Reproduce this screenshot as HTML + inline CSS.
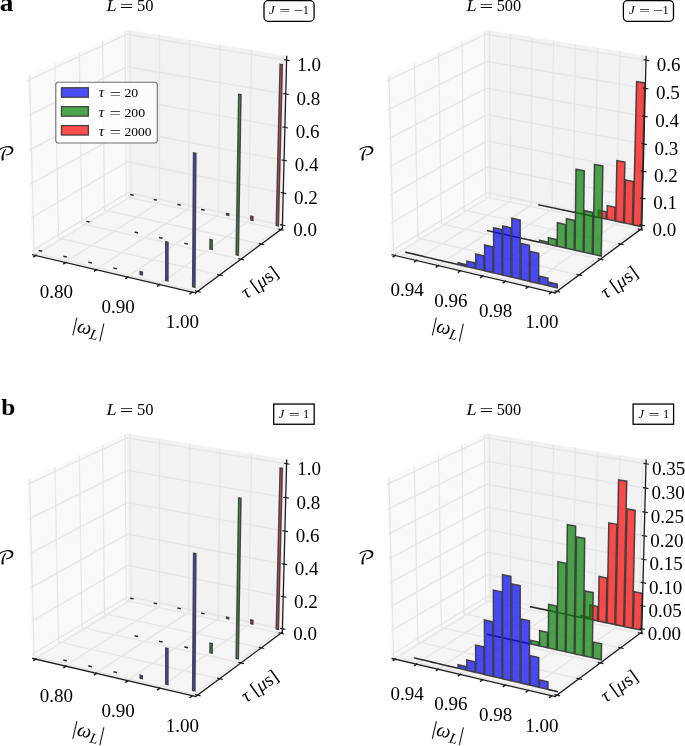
<!DOCTYPE html>
<html lang="en"><head><meta charset="utf-8"><title>Figure</title>
<style>html,body{margin:0;padding:0;background:#fff;overflow:hidden}svg{display:block}</style>
</head><body>
<svg width="685" height="746" viewBox="0 0 685 746" font-family="'Liberation Serif', 'DejaVu Serif', serif" fill="#000">
<g>
<polygon points="32.1,254.28 127.97,195.83 126.9,29.85 27.37,75.88" fill="#f9f9f9"/>
<polygon points="127.97,195.83 282.33,228.41 286.73,55.47 126.9,29.85" fill="#f2f2f2"/>
<polygon points="32.1,254.28 195.29,292.77 282.33,228.41 127.97,195.83" fill="#f5f5f5"/>
<polyline points="35.21,255.01 130.92,196.45 129.95,30.34" fill="none" stroke="#e6e6e6" stroke-width="1.3"/>
<polyline points="65.35,262.12 159.52,202.49 159.52,35.08" fill="none" stroke="#e6e6e6" stroke-width="1.3"/>
<polyline points="96.07,269.37 188.62,208.63 189.64,39.91" fill="none" stroke="#e6e6e6" stroke-width="1.3"/>
<polyline points="127.38,276.75 218.25,214.88 220.31,44.83" fill="none" stroke="#e6e6e6" stroke-width="1.3"/>
<polyline points="159.3,284.28 248.4,221.25 251.56,49.84" fill="none" stroke="#e6e6e6" stroke-width="1.3"/>
<polyline points="191.86,291.96 279.1,227.73 283.38,54.94" fill="none" stroke="#e6e6e6" stroke-width="1.3"/>
<polyline points="197.18,291.37 34.18,253.01 29.53,74.88" fill="none" stroke="#e6e6e6" stroke-width="1.3"/>
<polyline points="219.38,274.96 58.56,238.15 54.89,63.15" fill="none" stroke="#e6e6e6" stroke-width="1.3"/>
<polyline points="240.67,259.22 81.99,223.87 79.23,51.9" fill="none" stroke="#e6e6e6" stroke-width="1.3"/>
<polyline points="261.1,244.11 104.52,210.13 102.6,41.09" fill="none" stroke="#e6e6e6" stroke-width="1.3"/>
<polyline points="280.73,229.59 126.2,196.91 125.06,30.7" fill="none" stroke="#e6e6e6" stroke-width="1.3"/>
<polyline points="32.01,250.86 127.95,192.64 282.41,225.09" fill="none" stroke="#e6e6e6" stroke-width="1.3"/>
<polyline points="31.13,217.75 127.75,161.76 283.23,192.96" fill="none" stroke="#e6e6e6" stroke-width="1.3"/>
<polyline points="30.24,184.18 127.55,130.5 284.06,160.4" fill="none" stroke="#e6e6e6" stroke-width="1.3"/>
<polyline points="29.34,150.14 127.34,98.83 284.9,127.41" fill="none" stroke="#e6e6e6" stroke-width="1.3"/>
<polyline points="28.42,115.62 127.13,66.75 285.75,93.96" fill="none" stroke="#e6e6e6" stroke-width="1.3"/>
<polyline points="27.5,80.61 126.92,34.25 286.61,60.06" fill="none" stroke="#e6e6e6" stroke-width="1.3"/>
<line x1="130.98" y1="194.61" x2="132.91" y2="195.02" stroke="#2a2a2a" stroke-width="1.5" stroke-linecap="square"/>
<line x1="154.37" y1="199.55" x2="156.33" y2="199.97" stroke="#2a2a2a" stroke-width="1.5" stroke-linecap="square"/>
<line x1="178.1" y1="204.56" x2="180.09" y2="204.98" stroke="#2a2a2a" stroke-width="1.5" stroke-linecap="square"/>
<line x1="201.88" y1="209.59" x2="203.89" y2="210.01" stroke="#2a2a2a" stroke-width="1.5" stroke-linecap="square"/>
<polygon points="226.6,214.81 226.62,213.55 228.66,213.98 228.65,215.24" fill="#ff0000" fill-opacity="0.7"/>
<polygon points="226.6,214.81 226.62,213.55 228.66,213.98 228.65,215.24" fill="none" stroke="#3c3c3c" stroke-opacity="0.95" stroke-width="1.5" stroke-linejoin="miter"/>
<polygon points="250.78,219.92 250.85,216.27 252.93,216.7 252.86,220.36" fill="#ff0000" fill-opacity="0.7"/>
<polygon points="250.78,219.92 250.85,216.27 252.93,216.7 252.86,220.36" fill="none" stroke="#3c3c3c" stroke-opacity="0.95" stroke-width="1.5" stroke-linejoin="miter"/>
<polygon points="276.24,225.3 280.12,64.32 282.3,64.68 278.35,225.74" fill="#ff0000" fill-opacity="0.7"/>
<polygon points="276.24,225.3 280.12,64.32 282.3,64.68 278.35,225.74" fill="none" stroke="#3c3c3c" stroke-opacity="0.95" stroke-width="1.5" stroke-linejoin="miter"/>
<line x1="87" y1="221.53" x2="88.98" y2="221.97" stroke="#2a2a2a" stroke-width="1.5" stroke-linecap="square"/>
<line x1="135.33" y1="232.29" x2="137.36" y2="232.74" stroke="#2a2a2a" stroke-width="1.5" stroke-linecap="square"/>
<line x1="159.74" y1="237.72" x2="161.8" y2="238.18" stroke="#2a2a2a" stroke-width="1.5" stroke-linecap="square"/>
<line x1="185.13" y1="243.37" x2="187.23" y2="243.84" stroke="#2a2a2a" stroke-width="1.5" stroke-linecap="square"/>
<polygon points="209.98,248.9 210.08,239.53 212.22,240 212.11,249.37" fill="#008000" fill-opacity="0.7"/>
<polygon points="209.98,248.9 210.08,239.53 212.22,240 212.11,249.37" fill="none" stroke="#3c3c3c" stroke-opacity="0.95" stroke-width="1.5" stroke-linejoin="miter"/>
<polygon points="236.16,254.72 238.71,94.31 240.95,94.7 238.33,255.21" fill="#008000" fill-opacity="0.7"/>
<polygon points="236.16,254.72 238.71,94.31 240.95,94.7 238.33,255.21" fill="none" stroke="#3c3c3c" stroke-opacity="0.95" stroke-width="1.5" stroke-linejoin="miter"/>
<line x1="39.44" y1="250.65" x2="41.46" y2="251.12" stroke="#2a2a2a" stroke-width="1.5" stroke-linecap="square"/>
<line x1="64.03" y1="256.43" x2="66.09" y2="256.91" stroke="#2a2a2a" stroke-width="1.5" stroke-linecap="square"/>
<line x1="89.02" y1="262.3" x2="91.11" y2="262.79" stroke="#2a2a2a" stroke-width="1.5" stroke-linecap="square"/>
<line x1="114.08" y1="268.19" x2="116.21" y2="268.69" stroke="#2a2a2a" stroke-width="1.5" stroke-linecap="square"/>
<polygon points="140.18,274.33 140.17,271.62 142.32,272.13 142.33,274.83" fill="#0000ff" fill-opacity="0.7"/>
<polygon points="140.18,274.33 140.17,271.62 142.32,272.13 142.33,274.83" fill="none" stroke="#3c3c3c" stroke-opacity="0.95" stroke-width="1.5" stroke-linejoin="miter"/>
<polygon points="165.73,280.33 165.78,241.8 167.98,242.29 167.92,280.85" fill="#0000ff" fill-opacity="0.7"/>
<polygon points="165.73,280.33 165.78,241.8 167.98,242.29 167.92,280.85" fill="none" stroke="#3c3c3c" stroke-opacity="0.95" stroke-width="1.5" stroke-linejoin="miter"/>
<polygon points="192.66,286.66 193.58,153.03 195.87,153.48 194.89,287.19" fill="#0000ff" fill-opacity="0.7"/>
<polygon points="192.66,286.66 193.58,153.03 195.87,153.48 194.89,287.19" fill="none" stroke="#3c3c3c" stroke-opacity="0.95" stroke-width="1.5" stroke-linejoin="miter"/>
<polyline points="32.69,254.78 195.6,292.87" stroke="#1c1c1c" stroke-width="1.3" stroke-linecap="square" fill="none"/>
<polyline points="195.6,292.87 282.34,228.51" stroke="#1c1c1c" stroke-width="1.3" stroke-linecap="square" fill="none"/>
<polyline points="282.34,228.51 286.7,56.5" stroke="#1c1c1c" stroke-width="1.3" stroke-linecap="square" fill="none"/>
<polyline points="35.99,255.31 33.83,256.64" fill="none" stroke="#1c1c1c" stroke-width="1.5" stroke-linecap="square"/>
<polyline points="66.02,262.42 63.9,263.77" fill="none" stroke="#1c1c1c" stroke-width="1.5" stroke-linecap="square"/>
<polyline points="96.63,269.67 94.54,271.04" fill="none" stroke="#1c1c1c" stroke-width="1.5" stroke-linecap="square"/>
<polyline points="127.83,277.05 125.78,278.45" fill="none" stroke="#1c1c1c" stroke-width="1.5" stroke-linecap="square"/>
<polyline points="159.65,284.58 157.63,286.01" fill="none" stroke="#1c1c1c" stroke-width="1.5" stroke-linecap="square"/>
<polyline points="192.09,292.26 190.11,293.72" fill="none" stroke="#1c1c1c" stroke-width="1.5" stroke-linecap="square"/>
<polyline points="195.58,290.92 200.09,291.98" fill="none" stroke="#1c1c1c" stroke-width="1.2" stroke-linecap="square"/>
<polyline points="217.72,274.52 222.17,275.54" fill="none" stroke="#1c1c1c" stroke-width="1.2" stroke-linecap="square"/>
<polyline points="238.96,258.8 243.35,259.78" fill="none" stroke="#1c1c1c" stroke-width="1.2" stroke-linecap="square"/>
<polyline points="259.35,243.71 263.67,244.65" fill="none" stroke="#1c1c1c" stroke-width="1.2" stroke-linecap="square"/>
<polyline points="278.94,229.21 283.2,230.11" fill="none" stroke="#1c1c1c" stroke-width="1.2" stroke-linecap="square"/>
<polyline points="280.62,224.71 284.88,225.6" fill="none" stroke="#1c1c1c" stroke-width="1.2" stroke-linecap="square"/>
<polyline points="281.42,192.59 285.71,193.46" fill="none" stroke="#1c1c1c" stroke-width="1.2" stroke-linecap="square"/>
<polyline points="282.24,160.05 286.55,160.88" fill="none" stroke="#1c1c1c" stroke-width="1.2" stroke-linecap="square"/>
<polyline points="283.06,127.07 287.41,127.86" fill="none" stroke="#1c1c1c" stroke-width="1.2" stroke-linecap="square"/>
<polyline points="283.9,93.64 288.27,94.39" fill="none" stroke="#1c1c1c" stroke-width="1.2" stroke-linecap="square"/>
<polyline points="284.74,59.76 289.15,60.47" fill="none" stroke="#1c1c1c" stroke-width="1.2" stroke-linecap="square"/>
<text x="305.02" y="236.13" font-size="19" text-anchor="middle">0.0</text>
<text x="305.84" y="204" font-size="19" text-anchor="middle">0.2</text>
<text x="306.67" y="171.45" font-size="19" text-anchor="middle">0.4</text>
<text x="307.5" y="138.45" font-size="19" text-anchor="middle">0.6</text>
<text x="308.35" y="105.01" font-size="19" text-anchor="middle">0.8</text>
<text x="309.21" y="71.1" font-size="19" text-anchor="middle">1.0</text>
<text x="56.32" y="298.37" font-size="19" text-anchor="middle">0.80</text>
<text x="118.13" y="313" font-size="19" text-anchor="middle">0.90</text>
<text x="182.39" y="328.21" font-size="19" text-anchor="middle">1.00</text>
<text x="87" y="334.1" font-size="20" text-anchor="middle" transform="rotate(12.8 87 334.1)"><tspan font-style="italic">|ω</tspan><tspan font-style="italic" font-size="14.5" dy="3.8">L</tspan><tspan dy="-3.8" font-style="italic">|</tspan></text>
<text x="263.3" y="287.3" font-size="19" text-anchor="middle" transform="rotate(-35.8 263.3 287.3)"><tspan font-style="italic">τ</tspan> [<tspan font-style="italic">μ</tspan>s]</text>
<text transform="translate(-2.47 160.1) scale(1.1705 1)" font-size="17.86" font-family="'DejaVu Math TeX Gyre', 'DejaVu Serif', serif">𝒫</text>
<text transform="translate(106.51 11) scale(1.0302 1)" font-size="17.72" font-style="italic">L</text>
<text transform="translate(119.7 12.3) scale(1.4499 1)" font-size="16.6">=</text>
<text transform="translate(137.04 11) scale(0.9855 1)" font-size="16.84">50</text>
<rect x="264" y="0.7" width="50.1" height="20.6" rx="4" ry="4" fill="#fff" stroke="#000" stroke-width="1.3"/>
<text transform="translate(269.1 14.1) scale(0.9815 1)" font-size="13.29" font-style="italic">J</text>
<text transform="translate(279.46 15.1) scale(1.4547 1)" font-size="13">=</text>
<text transform="translate(293.14 15.1) scale(1.3225 1)" font-size="13">−</text>
<text transform="translate(302.7 14.1) scale(0.9707 1)" font-size="12.88">1</text>
<rect x="55.8" y="82.3" width="101.5" height="60.75" rx="2.5" ry="2.5" fill="#fff" fill-opacity="0.78" stroke="#000" stroke-opacity="0.55" stroke-width="1.1"/>
<rect x="61.45" y="87.75" width="26.9" height="9.5" fill="#0000ff" fill-opacity="0.7"/>
<rect x="61.45" y="87.75" width="26.9" height="9.5" fill="none" stroke="#3c3c3c" stroke-opacity="0.95" stroke-width="1.3"/>
<text transform="translate(98.76 97.4) scale(1.0923 1)" font-size="14" font-style="italic">τ</text>
<text transform="translate(109.82 98.5) scale(1.4122 1)" font-size="14">=</text>
<text transform="translate(124.39 97.4) scale(1.0455 1)" font-size="13.23">20</text>
<rect x="61.45" y="106.65" width="26.9" height="9.5" fill="#008000" fill-opacity="0.7"/>
<rect x="61.45" y="106.65" width="26.9" height="9.5" fill="none" stroke="#3c3c3c" stroke-opacity="0.95" stroke-width="1.3"/>
<text transform="translate(98.76 116.55) scale(1.0923 1)" font-size="14" font-style="italic">τ</text>
<text transform="translate(109.82 117.65) scale(1.4122 1)" font-size="14">=</text>
<text transform="translate(124.39 116.55) scale(1.0446 1)" font-size="13.23">200</text>
<rect x="61.45" y="125.55" width="26.9" height="9.5" fill="#ff0000" fill-opacity="0.7"/>
<rect x="61.45" y="125.55" width="26.9" height="9.5" fill="none" stroke="#3c3c3c" stroke-opacity="0.95" stroke-width="1.3"/>
<text transform="translate(98.76 135.7) scale(1.0923 1)" font-size="14" font-style="italic">τ</text>
<text transform="translate(109.82 136.8) scale(1.4122 1)" font-size="14">=</text>
<text transform="translate(124.4 135.7) scale(1.0245 1)" font-size="13.23">2000</text>
<text transform="translate(-0.28 10.9) scale(1.1136 1)" font-size="24.6" font-weight="bold">a</text>
</g>
<g>
<polygon points="391.5,254.28 487.37,195.83 486.3,29.85 386.77,75.88" fill="#f9f9f9"/>
<polygon points="487.37,195.83 641.73,228.41 646.13,55.47 486.3,29.85" fill="#f2f2f2"/>
<polygon points="391.5,254.28 554.69,292.77 641.73,228.41 487.37,195.83" fill="#f5f5f5"/>
<polyline points="394.61,255.01 490.32,196.45 489.35,30.34" fill="none" stroke="#e6e6e6" stroke-width="1.3"/>
<polyline points="416.08,260.08 510.7,200.76 510.42,33.72" fill="none" stroke="#e6e6e6" stroke-width="1.3"/>
<polyline points="437.84,265.21 531.33,205.11 531.76,37.14" fill="none" stroke="#e6e6e6" stroke-width="1.3"/>
<polyline points="459.9,270.41 552.22,209.52 553.39,40.61" fill="none" stroke="#e6e6e6" stroke-width="1.3"/>
<polyline points="482.27,275.69 573.38,213.98 575.3,44.12" fill="none" stroke="#e6e6e6" stroke-width="1.3"/>
<polyline points="504.95,281.04 594.81,218.51 597.49,47.68" fill="none" stroke="#e6e6e6" stroke-width="1.3"/>
<polyline points="527.94,286.46 616.51,223.09 619.99,51.28" fill="none" stroke="#e6e6e6" stroke-width="1.3"/>
<polyline points="551.26,291.96 638.5,227.73 642.78,54.94" fill="none" stroke="#e6e6e6" stroke-width="1.3"/>
<polyline points="556.58,291.37 393.58,253.01 388.93,74.88" fill="none" stroke="#e6e6e6" stroke-width="1.3"/>
<polyline points="578.78,274.96 417.96,238.15 414.29,63.15" fill="none" stroke="#e6e6e6" stroke-width="1.3"/>
<polyline points="600.07,259.22 441.39,223.87 438.63,51.9" fill="none" stroke="#e6e6e6" stroke-width="1.3"/>
<polyline points="620.5,244.11 463.92,210.13 462,41.09" fill="none" stroke="#e6e6e6" stroke-width="1.3"/>
<polyline points="640.13,229.59 485.6,196.91 484.46,30.7" fill="none" stroke="#e6e6e6" stroke-width="1.3"/>
<polyline points="391.41,250.86 487.35,192.64 641.81,225.09" fill="none" stroke="#e6e6e6" stroke-width="1.3"/>
<polyline points="390.68,223.3 487.18,166.94 642.5,198.34" fill="none" stroke="#e6e6e6" stroke-width="1.3"/>
<polyline points="389.94,195.42 487.02,140.96 643.18,171.3" fill="none" stroke="#e6e6e6" stroke-width="1.3"/>
<polyline points="389.19,167.22 486.85,114.71 643.88,143.96" fill="none" stroke="#e6e6e6" stroke-width="1.3"/>
<polyline points="388.44,138.69 486.67,88.18 644.58,116.31" fill="none" stroke="#e6e6e6" stroke-width="1.3"/>
<polyline points="387.67,109.82 486.5,61.36 645.29,88.34" fill="none" stroke="#e6e6e6" stroke-width="1.3"/>
<polyline points="386.9,80.61 486.32,34.25 646.01,60.06" fill="none" stroke="#e6e6e6" stroke-width="1.3"/>
<line x1="538.95" y1="204.87" x2="546.47" y2="206.46" stroke="#2a2a2a" stroke-width="1.5" stroke-linecap="square"/>
<line x1="547.31" y1="206.64" x2="554.87" y2="208.23" stroke="#2a2a2a" stroke-width="1.5" stroke-linecap="square"/>
<line x1="555.71" y1="208.41" x2="563.3" y2="210.02" stroke="#2a2a2a" stroke-width="1.5" stroke-linecap="square"/>
<line x1="564.15" y1="210.19" x2="571.78" y2="211.81" stroke="#2a2a2a" stroke-width="1.5" stroke-linecap="square"/>
<line x1="572.63" y1="211.99" x2="580.3" y2="213.61" stroke="#2a2a2a" stroke-width="1.5" stroke-linecap="square"/>
<line x1="581.16" y1="213.79" x2="588.87" y2="215.42" stroke="#2a2a2a" stroke-width="1.5" stroke-linecap="square"/>
<line x1="589.73" y1="215.6" x2="597.48" y2="217.24" stroke="#2a2a2a" stroke-width="1.5" stroke-linecap="square"/>
<polygon points="598.34,217.42 598.46,210.24 606.27,211.87 606.14,219.06" fill="#ff0000" fill-opacity="0.7"/>
<polygon points="598.34,217.42 598.46,210.24 606.27,211.87 606.14,219.06" fill="none" stroke="#3c3c3c" stroke-opacity="0.95" stroke-width="1.5" stroke-linejoin="miter"/>
<polygon points="607,219.25 607.25,205.63 615.11,207.26 614.84,220.9" fill="#ff0000" fill-opacity="0.7"/>
<polygon points="607,219.25 607.25,205.63 615.11,207.26 614.84,220.9" fill="none" stroke="#3c3c3c" stroke-opacity="0.95" stroke-width="1.5" stroke-linejoin="miter"/>
<polygon points="615.71,221.09 616.91,160.62 624.89,162.17 623.58,222.75" fill="#ff0000" fill-opacity="0.7"/>
<polygon points="615.71,221.09 616.91,160.62 624.89,162.17 623.58,222.75" fill="none" stroke="#3c3c3c" stroke-opacity="0.95" stroke-width="1.5" stroke-linejoin="miter"/>
<polygon points="624.46,222.93 625.39,180.03 633.38,181.62 632.37,224.61" fill="#ff0000" fill-opacity="0.7"/>
<polygon points="624.46,222.93 625.39,180.03 633.38,181.62 632.37,224.61" fill="none" stroke="#3c3c3c" stroke-opacity="0.95" stroke-width="1.5" stroke-linejoin="miter"/>
<polygon points="633.25,224.79 636.63,81.51 644.83,82.89 641.21,226.47" fill="#ff0000" fill-opacity="0.7"/>
<polygon points="633.25,224.79 636.63,81.51 644.83,82.89 641.21,226.47" fill="none" stroke="#3c3c3c" stroke-opacity="0.95" stroke-width="1.5" stroke-linejoin="miter"/>
<line x1="487.68" y1="230.72" x2="495.36" y2="232.43" stroke="#2a2a2a" stroke-width="1.5" stroke-linecap="square"/>
<line x1="496.22" y1="232.62" x2="503.93" y2="234.33" stroke="#2a2a2a" stroke-width="1.5" stroke-linecap="square"/>
<line x1="504.79" y1="234.53" x2="512.55" y2="236.25" stroke="#2a2a2a" stroke-width="1.5" stroke-linecap="square"/>
<line x1="513.41" y1="236.44" x2="521.21" y2="238.18" stroke="#2a2a2a" stroke-width="1.5" stroke-linecap="square"/>
<line x1="522.08" y1="238.37" x2="529.92" y2="240.12" stroke="#2a2a2a" stroke-width="1.5" stroke-linecap="square"/>
<line x1="530.79" y1="240.31" x2="538.68" y2="242.07" stroke="#2a2a2a" stroke-width="1.5" stroke-linecap="square"/>
<polygon points="539.55,242.26 539.56,240.25 547.49,242.01 547.48,244.02" fill="#008000" fill-opacity="0.7"/>
<polygon points="539.55,242.26 539.56,240.25 547.49,242.01 547.48,244.02" fill="none" stroke="#3c3c3c" stroke-opacity="0.95" stroke-width="1.5" stroke-linejoin="miter"/>
<polygon points="548.36,244.22 548.4,237.74 556.38,239.5 556.33,245.99" fill="#008000" fill-opacity="0.7"/>
<polygon points="548.36,244.22 548.4,237.74 556.38,239.5 556.33,245.99" fill="none" stroke="#3c3c3c" stroke-opacity="0.95" stroke-width="1.5" stroke-linejoin="miter"/>
<polygon points="557.21,246.19 557.4,222.74 565.45,224.48 565.22,247.97" fill="#008000" fill-opacity="0.7"/>
<polygon points="557.21,246.19 557.4,222.74 565.45,224.48 565.22,247.97" fill="none" stroke="#3c3c3c" stroke-opacity="0.95" stroke-width="1.5" stroke-linejoin="miter"/>
<polygon points="566.11,248.17 566.4,218.73 574.5,220.46 574.17,249.96" fill="#008000" fill-opacity="0.7"/>
<polygon points="566.11,248.17 566.4,218.73 574.5,220.46 574.17,249.96" fill="none" stroke="#3c3c3c" stroke-opacity="0.95" stroke-width="1.5" stroke-linejoin="miter"/>
<polygon points="575.06,250.16 576,169.14 584.24,170.77 583.16,251.96" fill="#008000" fill-opacity="0.7"/>
<polygon points="575.06,250.16 576,169.14 584.24,170.77 583.16,251.96" fill="none" stroke="#3c3c3c" stroke-opacity="0.95" stroke-width="1.5" stroke-linejoin="miter"/>
<polygon points="584.06,252.16 584.62,210.76 592.83,212.48 592.2,253.98" fill="#008000" fill-opacity="0.7"/>
<polygon points="584.06,252.16 584.62,210.76 592.83,212.48 592.2,253.98" fill="none" stroke="#3c3c3c" stroke-opacity="0.95" stroke-width="1.5" stroke-linejoin="miter"/>
<polygon points="593.1,254.18 594.49,164.34 602.83,165.98 601.29,256" fill="#008000" fill-opacity="0.7"/>
<polygon points="593.1,254.18 594.49,164.34 602.83,165.98 601.29,256" fill="none" stroke="#3c3c3c" stroke-opacity="0.95" stroke-width="1.5" stroke-linejoin="miter"/>
<line x1="405.99" y1="252.33" x2="413.69" y2="254.14" stroke="#2a2a2a" stroke-width="1.5" stroke-linecap="square"/>
<line x1="414.55" y1="254.34" x2="422.3" y2="256.16" stroke="#2a2a2a" stroke-width="1.5" stroke-linecap="square"/>
<line x1="423.17" y1="256.36" x2="430.96" y2="258.2" stroke="#2a2a2a" stroke-width="1.5" stroke-linecap="square"/>
<line x1="431.83" y1="258.4" x2="439.66" y2="260.24" stroke="#2a2a2a" stroke-width="1.5" stroke-linecap="square"/>
<line x1="440.53" y1="260.45" x2="448.41" y2="262.3" stroke="#2a2a2a" stroke-width="1.5" stroke-linecap="square"/>
<line x1="449.29" y1="262.5" x2="457.21" y2="264.37" stroke="#2a2a2a" stroke-width="1.5" stroke-linecap="square"/>
<polygon points="458.09,264.57 458.07,262.79 466.03,264.66 466.05,266.45" fill="#0000ff" fill-opacity="0.7"/>
<polygon points="458.09,264.57 458.07,262.79 466.03,264.66 466.05,266.45" fill="none" stroke="#3c3c3c" stroke-opacity="0.95" stroke-width="1.5" stroke-linejoin="miter"/>
<polygon points="466.94,266.65 466.88,261.1 474.89,262.97 474.95,268.54" fill="#0000ff" fill-opacity="0.7"/>
<polygon points="466.94,266.65 466.88,261.1 474.89,262.97 474.95,268.54" fill="none" stroke="#3c3c3c" stroke-opacity="0.95" stroke-width="1.5" stroke-linejoin="miter"/>
<polygon points="475.84,268.75 475.7,253.91 483.78,255.77 483.89,270.64" fill="#0000ff" fill-opacity="0.7"/>
<polygon points="475.84,268.75 475.7,253.91 483.78,255.77 483.89,270.64" fill="none" stroke="#3c3c3c" stroke-opacity="0.95" stroke-width="1.5" stroke-linejoin="miter"/>
<polygon points="484.79,270.85 484.6,244.99 492.74,246.83 492.88,272.75" fill="#0000ff" fill-opacity="0.7"/>
<polygon points="484.79,270.85 484.6,244.99 492.74,246.83 492.88,272.75" fill="none" stroke="#3c3c3c" stroke-opacity="0.95" stroke-width="1.5" stroke-linejoin="miter"/>
<polygon points="493.78,272.96 493.54,227.71 501.76,229.53 501.92,274.88" fill="#0000ff" fill-opacity="0.7"/>
<polygon points="493.78,272.96 493.54,227.71 501.76,229.53 501.92,274.88" fill="none" stroke="#3c3c3c" stroke-opacity="0.95" stroke-width="1.5" stroke-linejoin="miter"/>
<polygon points="502.83,275.09 502.66,226 510.93,227.82 511.02,277.01" fill="#0000ff" fill-opacity="0.7"/>
<polygon points="502.83,275.09 502.66,226 510.93,227.82 511.02,277.01" fill="none" stroke="#3c3c3c" stroke-opacity="0.95" stroke-width="1.5" stroke-linejoin="miter"/>
<polygon points="511.93,277.23 511.84,218.21 520.17,220.02 520.16,279.16" fill="#0000ff" fill-opacity="0.7"/>
<polygon points="511.93,277.23 511.84,218.21 520.17,220.02 520.16,279.16" fill="none" stroke="#3c3c3c" stroke-opacity="0.95" stroke-width="1.5" stroke-linejoin="miter"/>
<polygon points="521.08,279.38 521.09,243.5 529.43,245.37 529.35,281.33" fill="#0000ff" fill-opacity="0.7"/>
<polygon points="521.08,279.38 521.09,243.5 529.43,245.37 529.35,281.33" fill="none" stroke="#3c3c3c" stroke-opacity="0.95" stroke-width="1.5" stroke-linejoin="miter"/>
<polygon points="530.28,281.54 530.35,251.39 538.72,253.28 538.6,283.5" fill="#0000ff" fill-opacity="0.7"/>
<polygon points="530.28,281.54 530.35,251.39 538.72,253.28 538.6,283.5" fill="none" stroke="#3c3c3c" stroke-opacity="0.95" stroke-width="1.5" stroke-linejoin="miter"/>
<polygon points="539.53,283.72 539.56,276.2 547.94,278.16 547.9,285.68" fill="#0000ff" fill-opacity="0.7"/>
<polygon points="539.53,283.72 539.56,276.2 547.94,278.16 547.9,285.68" fill="none" stroke="#3c3c3c" stroke-opacity="0.95" stroke-width="1.5" stroke-linejoin="miter"/>
<polygon points="548.83,285.9 548.85,282.2 557.28,284.17 557.25,287.88" fill="#0000ff" fill-opacity="0.7"/>
<polygon points="548.83,285.9 548.85,282.2 557.28,284.17 557.25,287.88" fill="none" stroke="#3c3c3c" stroke-opacity="0.95" stroke-width="1.5" stroke-linejoin="miter"/>
<polyline points="392.09,254.78 555,292.87" stroke="#1c1c1c" stroke-width="1.3" stroke-linecap="square" fill="none"/>
<polyline points="555,292.87 641.74,228.51" stroke="#1c1c1c" stroke-width="1.3" stroke-linecap="square" fill="none"/>
<polyline points="641.74,228.51 646.1,56.5" stroke="#1c1c1c" stroke-width="1.3" stroke-linecap="square" fill="none"/>
<polyline points="395.39,255.31 393.23,256.64" fill="none" stroke="#1c1c1c" stroke-width="1.5" stroke-linecap="square"/>
<polyline points="416.78,260.38 414.65,261.72" fill="none" stroke="#1c1c1c" stroke-width="1.5" stroke-linecap="square"/>
<polyline points="438.47,265.51 436.36,266.87" fill="none" stroke="#1c1c1c" stroke-width="1.5" stroke-linecap="square"/>
<polyline points="460.45,270.71 458.37,272.09" fill="none" stroke="#1c1c1c" stroke-width="1.5" stroke-linecap="square"/>
<polyline points="482.74,275.99 480.68,277.39" fill="none" stroke="#1c1c1c" stroke-width="1.5" stroke-linecap="square"/>
<polyline points="505.34,281.34 503.31,282.75" fill="none" stroke="#1c1c1c" stroke-width="1.5" stroke-linecap="square"/>
<polyline points="528.25,286.76 526.25,288.2" fill="none" stroke="#1c1c1c" stroke-width="1.5" stroke-linecap="square"/>
<polyline points="551.49,292.26 549.51,293.72" fill="none" stroke="#1c1c1c" stroke-width="1.5" stroke-linecap="square"/>
<polyline points="554.98,290.92 559.49,291.98" fill="none" stroke="#1c1c1c" stroke-width="1.2" stroke-linecap="square"/>
<polyline points="577.12,274.52 581.57,275.54" fill="none" stroke="#1c1c1c" stroke-width="1.2" stroke-linecap="square"/>
<polyline points="598.36,258.8 602.75,259.78" fill="none" stroke="#1c1c1c" stroke-width="1.2" stroke-linecap="square"/>
<polyline points="618.75,243.71 623.07,244.65" fill="none" stroke="#1c1c1c" stroke-width="1.2" stroke-linecap="square"/>
<polyline points="638.34,229.21 642.6,230.11" fill="none" stroke="#1c1c1c" stroke-width="1.2" stroke-linecap="square"/>
<polyline points="640.02,224.71 644.28,225.6" fill="none" stroke="#1c1c1c" stroke-width="1.2" stroke-linecap="square"/>
<polyline points="640.69,197.98 644.97,198.84" fill="none" stroke="#1c1c1c" stroke-width="1.2" stroke-linecap="square"/>
<polyline points="641.36,170.95 645.67,171.79" fill="none" stroke="#1c1c1c" stroke-width="1.2" stroke-linecap="square"/>
<polyline points="642.05,143.62 646.38,144.43" fill="none" stroke="#1c1c1c" stroke-width="1.2" stroke-linecap="square"/>
<polyline points="642.74,115.98 647.09,116.76" fill="none" stroke="#1c1c1c" stroke-width="1.2" stroke-linecap="square"/>
<polyline points="643.44,88.03 647.82,88.77" fill="none" stroke="#1c1c1c" stroke-width="1.2" stroke-linecap="square"/>
<polyline points="644.14,59.76 648.55,60.47" fill="none" stroke="#1c1c1c" stroke-width="1.2" stroke-linecap="square"/>
<text x="664.42" y="236.13" font-size="19" text-anchor="middle">0.0</text>
<text x="665.1" y="209.39" font-size="19" text-anchor="middle">0.1</text>
<text x="665.79" y="182.35" font-size="19" text-anchor="middle">0.2</text>
<text x="666.48" y="155" font-size="19" text-anchor="middle">0.3</text>
<text x="667.18" y="127.35" font-size="19" text-anchor="middle">0.4</text>
<text x="667.89" y="99.39" font-size="19" text-anchor="middle">0.5</text>
<text x="668.61" y="71.1" font-size="19" text-anchor="middle">0.6</text>
<text x="407.08" y="296.32" font-size="19" text-anchor="middle">0.94</text>
<text x="450.75" y="306.66" font-size="19" text-anchor="middle">0.96</text>
<text x="495.64" y="317.28" font-size="19" text-anchor="middle">0.98</text>
<text x="541.79" y="328.21" font-size="19" text-anchor="middle">1.00</text>
<text x="446.4" y="334.1" font-size="20" text-anchor="middle" transform="rotate(12.8 446.4 334.1)"><tspan font-style="italic">|ω</tspan><tspan font-style="italic" font-size="14.5" dy="3.8">L</tspan><tspan dy="-3.8" font-style="italic">|</tspan></text>
<text x="622.7" y="287.3" font-size="19" text-anchor="middle" transform="rotate(-35.8 622.7 287.3)"><tspan font-style="italic">τ</tspan> [<tspan font-style="italic">μ</tspan>s]</text>
<text transform="translate(357.43 160.1) scale(1.1705 1)" font-size="17.86" font-family="'DejaVu Math TeX Gyre', 'DejaVu Serif', serif">𝒫</text>
<text transform="translate(466.41 11) scale(1.0302 1)" font-size="17.72" font-style="italic">L</text>
<text transform="translate(479.6 12.3) scale(1.4499 1)" font-size="16.6">=</text>
<text transform="translate(496.65 11) scale(0.9686 1)" font-size="16.84">500</text>
<rect x="623.4" y="0.7" width="50.1" height="20.6" rx="4" ry="4" fill="#fff" stroke="#000" stroke-width="1.3"/>
<text transform="translate(629 14.1) scale(0.9815 1)" font-size="13.29" font-style="italic">J</text>
<text transform="translate(639.36 15.1) scale(1.4547 1)" font-size="13">=</text>
<text transform="translate(653.04 15.1) scale(1.3225 1)" font-size="13">−</text>
<text transform="translate(662.6 14.1) scale(0.9707 1)" font-size="12.88">1</text>
</g>
<g>
<polygon points="32.1,657.98 127.97,599.53 126.9,433.55 27.37,479.58" fill="#f9f9f9"/>
<polygon points="127.97,599.53 282.33,632.11 286.73,459.17 126.9,433.55" fill="#f2f2f2"/>
<polygon points="32.1,657.98 195.29,696.47 282.33,632.11 127.97,599.53" fill="#f5f5f5"/>
<polyline points="35.21,658.71 130.92,600.15 129.95,434.04" fill="none" stroke="#e6e6e6" stroke-width="1.3"/>
<polyline points="65.35,665.82 159.52,606.19 159.52,438.78" fill="none" stroke="#e6e6e6" stroke-width="1.3"/>
<polyline points="96.07,673.07 188.62,612.33 189.64,443.61" fill="none" stroke="#e6e6e6" stroke-width="1.3"/>
<polyline points="127.38,680.45 218.25,618.58 220.31,448.53" fill="none" stroke="#e6e6e6" stroke-width="1.3"/>
<polyline points="159.3,687.98 248.4,624.95 251.56,453.54" fill="none" stroke="#e6e6e6" stroke-width="1.3"/>
<polyline points="191.86,695.66 279.1,631.43 283.38,458.64" fill="none" stroke="#e6e6e6" stroke-width="1.3"/>
<polyline points="197.18,695.07 34.18,656.71 29.53,478.58" fill="none" stroke="#e6e6e6" stroke-width="1.3"/>
<polyline points="219.38,678.66 58.56,641.85 54.89,466.85" fill="none" stroke="#e6e6e6" stroke-width="1.3"/>
<polyline points="240.67,662.92 81.99,627.57 79.23,455.6" fill="none" stroke="#e6e6e6" stroke-width="1.3"/>
<polyline points="261.1,647.81 104.52,613.83 102.6,444.79" fill="none" stroke="#e6e6e6" stroke-width="1.3"/>
<polyline points="280.73,633.29 126.2,600.61 125.06,434.4" fill="none" stroke="#e6e6e6" stroke-width="1.3"/>
<polyline points="32.01,654.56 127.95,596.34 282.41,628.79" fill="none" stroke="#e6e6e6" stroke-width="1.3"/>
<polyline points="31.13,621.45 127.75,565.46 283.23,596.66" fill="none" stroke="#e6e6e6" stroke-width="1.3"/>
<polyline points="30.24,587.88 127.55,534.2 284.06,564.1" fill="none" stroke="#e6e6e6" stroke-width="1.3"/>
<polyline points="29.34,553.84 127.34,502.53 284.9,531.11" fill="none" stroke="#e6e6e6" stroke-width="1.3"/>
<polyline points="28.42,519.32 127.13,470.45 285.75,497.66" fill="none" stroke="#e6e6e6" stroke-width="1.3"/>
<polyline points="27.5,484.31 126.92,437.95 286.61,463.76" fill="none" stroke="#e6e6e6" stroke-width="1.3"/>
<line x1="130.98" y1="598.31" x2="132.91" y2="598.72" stroke="#2a2a2a" stroke-width="1.5" stroke-linecap="square"/>
<line x1="154.37" y1="603.25" x2="156.33" y2="603.67" stroke="#2a2a2a" stroke-width="1.5" stroke-linecap="square"/>
<line x1="178.1" y1="608.26" x2="180.09" y2="608.68" stroke="#2a2a2a" stroke-width="1.5" stroke-linecap="square"/>
<line x1="201.88" y1="613.29" x2="203.89" y2="613.71" stroke="#2a2a2a" stroke-width="1.5" stroke-linecap="square"/>
<polygon points="226.6,618.51 226.62,617.25 228.66,617.68 228.65,618.94" fill="#ff0000" fill-opacity="0.7"/>
<polygon points="226.6,618.51 226.62,617.25 228.66,617.68 228.65,618.94" fill="none" stroke="#3c3c3c" stroke-opacity="0.95" stroke-width="1.5" stroke-linejoin="miter"/>
<polygon points="250.78,623.62 250.85,619.97 252.93,620.4 252.86,624.06" fill="#ff0000" fill-opacity="0.7"/>
<polygon points="250.78,623.62 250.85,619.97 252.93,620.4 252.86,624.06" fill="none" stroke="#3c3c3c" stroke-opacity="0.95" stroke-width="1.5" stroke-linejoin="miter"/>
<polygon points="276.24,629 280.12,468.02 282.3,468.38 278.35,629.44" fill="#ff0000" fill-opacity="0.7"/>
<polygon points="276.24,629 280.12,468.02 282.3,468.38 278.35,629.44" fill="none" stroke="#3c3c3c" stroke-opacity="0.95" stroke-width="1.5" stroke-linejoin="miter"/>
<line x1="135.33" y1="635.99" x2="137.36" y2="636.44" stroke="#2a2a2a" stroke-width="1.5" stroke-linecap="square"/>
<line x1="159.74" y1="641.42" x2="161.8" y2="641.88" stroke="#2a2a2a" stroke-width="1.5" stroke-linecap="square"/>
<line x1="185.13" y1="647.07" x2="187.23" y2="647.54" stroke="#2a2a2a" stroke-width="1.5" stroke-linecap="square"/>
<polygon points="209.98,652.6 210.08,643.07 212.22,643.53 212.11,653.07" fill="#008000" fill-opacity="0.7"/>
<polygon points="209.98,652.6 210.08,643.07 212.22,643.53 212.11,653.07" fill="none" stroke="#3c3c3c" stroke-opacity="0.95" stroke-width="1.5" stroke-linejoin="miter"/>
<polygon points="236.16,658.42 238.71,498.01 240.95,498.4 238.33,658.91" fill="#008000" fill-opacity="0.7"/>
<polygon points="236.16,658.42 238.71,498.01 240.95,498.4 238.33,658.91" fill="none" stroke="#3c3c3c" stroke-opacity="0.95" stroke-width="1.5" stroke-linejoin="miter"/>
<line x1="64.03" y1="660.13" x2="66.09" y2="660.61" stroke="#2a2a2a" stroke-width="1.5" stroke-linecap="square"/>
<line x1="89.02" y1="666" x2="91.11" y2="666.49" stroke="#2a2a2a" stroke-width="1.5" stroke-linecap="square"/>
<line x1="114.08" y1="671.89" x2="116.21" y2="672.39" stroke="#2a2a2a" stroke-width="1.5" stroke-linecap="square"/>
<polygon points="140.18,678.03 140.17,675.32 142.32,675.83 142.33,678.53" fill="#0000ff" fill-opacity="0.7"/>
<polygon points="140.18,678.03 140.17,675.32 142.32,675.83 142.33,678.53" fill="none" stroke="#3c3c3c" stroke-opacity="0.95" stroke-width="1.5" stroke-linejoin="miter"/>
<polygon points="165.73,684.03 165.77,648.09 167.98,648.58 167.92,684.55" fill="#0000ff" fill-opacity="0.7"/>
<polygon points="165.73,684.03 165.77,648.09 167.98,648.58 167.92,684.55" fill="none" stroke="#3c3c3c" stroke-opacity="0.95" stroke-width="1.5" stroke-linejoin="miter"/>
<polygon points="192.66,690.36 193.61,553.29 195.9,553.74 194.89,690.89" fill="#0000ff" fill-opacity="0.7"/>
<polygon points="192.66,690.36 193.61,553.29 195.9,553.74 194.89,690.89" fill="none" stroke="#3c3c3c" stroke-opacity="0.95" stroke-width="1.5" stroke-linejoin="miter"/>
<polyline points="32.69,658.48 195.6,696.57" stroke="#1c1c1c" stroke-width="1.3" stroke-linecap="square" fill="none"/>
<polyline points="195.6,696.57 282.34,632.21" stroke="#1c1c1c" stroke-width="1.3" stroke-linecap="square" fill="none"/>
<polyline points="282.34,632.21 286.7,460.2" stroke="#1c1c1c" stroke-width="1.3" stroke-linecap="square" fill="none"/>
<polyline points="35.99,659.01 33.83,660.34" fill="none" stroke="#1c1c1c" stroke-width="1.5" stroke-linecap="square"/>
<polyline points="66.02,666.12 63.9,667.47" fill="none" stroke="#1c1c1c" stroke-width="1.5" stroke-linecap="square"/>
<polyline points="96.63,673.37 94.54,674.74" fill="none" stroke="#1c1c1c" stroke-width="1.5" stroke-linecap="square"/>
<polyline points="127.83,680.75 125.78,682.15" fill="none" stroke="#1c1c1c" stroke-width="1.5" stroke-linecap="square"/>
<polyline points="159.65,688.28 157.63,689.71" fill="none" stroke="#1c1c1c" stroke-width="1.5" stroke-linecap="square"/>
<polyline points="192.09,695.96 190.11,697.42" fill="none" stroke="#1c1c1c" stroke-width="1.5" stroke-linecap="square"/>
<polyline points="195.58,694.62 200.09,695.68" fill="none" stroke="#1c1c1c" stroke-width="1.2" stroke-linecap="square"/>
<polyline points="217.72,678.22 222.17,679.24" fill="none" stroke="#1c1c1c" stroke-width="1.2" stroke-linecap="square"/>
<polyline points="238.96,662.5 243.35,663.48" fill="none" stroke="#1c1c1c" stroke-width="1.2" stroke-linecap="square"/>
<polyline points="259.35,647.41 263.67,648.35" fill="none" stroke="#1c1c1c" stroke-width="1.2" stroke-linecap="square"/>
<polyline points="278.94,632.91 283.2,633.81" fill="none" stroke="#1c1c1c" stroke-width="1.2" stroke-linecap="square"/>
<polyline points="280.62,628.41 284.88,629.3" fill="none" stroke="#1c1c1c" stroke-width="1.2" stroke-linecap="square"/>
<polyline points="281.42,596.29 285.71,597.16" fill="none" stroke="#1c1c1c" stroke-width="1.2" stroke-linecap="square"/>
<polyline points="282.24,563.75 286.55,564.58" fill="none" stroke="#1c1c1c" stroke-width="1.2" stroke-linecap="square"/>
<polyline points="283.06,530.77 287.41,531.56" fill="none" stroke="#1c1c1c" stroke-width="1.2" stroke-linecap="square"/>
<polyline points="283.9,497.34 288.27,498.09" fill="none" stroke="#1c1c1c" stroke-width="1.2" stroke-linecap="square"/>
<polyline points="284.74,463.46 289.15,464.17" fill="none" stroke="#1c1c1c" stroke-width="1.2" stroke-linecap="square"/>
<text x="305.02" y="639.83" font-size="19" text-anchor="middle">0.0</text>
<text x="305.84" y="607.7" font-size="19" text-anchor="middle">0.2</text>
<text x="306.67" y="575.15" font-size="19" text-anchor="middle">0.4</text>
<text x="307.5" y="542.15" font-size="19" text-anchor="middle">0.6</text>
<text x="308.35" y="508.71" font-size="19" text-anchor="middle">0.8</text>
<text x="309.21" y="474.8" font-size="19" text-anchor="middle">1.0</text>
<text x="56.32" y="702.07" font-size="19" text-anchor="middle">0.80</text>
<text x="118.13" y="716.7" font-size="19" text-anchor="middle">0.90</text>
<text x="182.39" y="731.91" font-size="19" text-anchor="middle">1.00</text>
<text x="87" y="737.8" font-size="20" text-anchor="middle" transform="rotate(12.8 87 737.8)"><tspan font-style="italic">|ω</tspan><tspan font-style="italic" font-size="14.5" dy="3.8">L</tspan><tspan dy="-3.8" font-style="italic">|</tspan></text>
<text x="263.3" y="691" font-size="19" text-anchor="middle" transform="rotate(-35.8 263.3 691)"><tspan font-style="italic">τ</tspan> [<tspan font-style="italic">μ</tspan>s]</text>
<text transform="translate(-2.47 563.8) scale(1.1705 1)" font-size="17.86" font-family="'DejaVu Math TeX Gyre', 'DejaVu Serif', serif">𝒫</text>
<text transform="translate(106.51 414.7) scale(1.0302 1)" font-size="17.72" font-style="italic">L</text>
<text transform="translate(119.7 416) scale(1.4499 1)" font-size="16.6">=</text>
<text transform="translate(137.04 414.7) scale(0.9855 1)" font-size="16.84">50</text>
<rect x="273.7" y="404.05" width="40.5" height="20.2" fill="#fff" stroke="#000" stroke-width="1.3"/>
<text transform="translate(278.72 417.5) scale(0.9171 1)" font-size="13.29" font-style="italic">J</text>
<text transform="translate(288.7 418.5) scale(1.5374 1)" font-size="13">=</text>
<text transform="translate(303 417.5) scale(0.9707 1)" font-size="12.88">1</text>
<text transform="translate(1.18 414.7) scale(1.0555 1)" font-size="23.92" font-weight="bold">b</text>
</g>
<g>
<polygon points="391.5,657.98 487.37,599.53 486.3,433.55 386.77,479.58" fill="#f9f9f9"/>
<polygon points="487.37,599.53 641.73,632.11 646.13,459.17 486.3,433.55" fill="#f2f2f2"/>
<polygon points="391.5,657.98 554.69,696.47 641.73,632.11 487.37,599.53" fill="#f5f5f5"/>
<polyline points="394.61,658.71 490.32,600.15 489.35,434.04" fill="none" stroke="#e6e6e6" stroke-width="1.3"/>
<polyline points="416.08,663.78 510.7,604.46 510.42,437.42" fill="none" stroke="#e6e6e6" stroke-width="1.3"/>
<polyline points="437.84,668.91 531.33,608.81 531.76,440.84" fill="none" stroke="#e6e6e6" stroke-width="1.3"/>
<polyline points="459.9,674.11 552.22,613.22 553.39,444.31" fill="none" stroke="#e6e6e6" stroke-width="1.3"/>
<polyline points="482.27,679.39 573.38,617.68 575.3,447.82" fill="none" stroke="#e6e6e6" stroke-width="1.3"/>
<polyline points="504.95,684.74 594.81,622.21 597.49,451.38" fill="none" stroke="#e6e6e6" stroke-width="1.3"/>
<polyline points="527.94,690.16 616.51,626.79 619.99,454.98" fill="none" stroke="#e6e6e6" stroke-width="1.3"/>
<polyline points="551.26,695.66 638.5,631.43 642.78,458.64" fill="none" stroke="#e6e6e6" stroke-width="1.3"/>
<polyline points="556.58,695.07 393.58,656.71 388.93,478.58" fill="none" stroke="#e6e6e6" stroke-width="1.3"/>
<polyline points="578.78,678.66 417.96,641.85 414.29,466.85" fill="none" stroke="#e6e6e6" stroke-width="1.3"/>
<polyline points="600.07,662.92 441.39,627.57 438.63,455.6" fill="none" stroke="#e6e6e6" stroke-width="1.3"/>
<polyline points="620.5,647.81 463.92,613.83 462,444.79" fill="none" stroke="#e6e6e6" stroke-width="1.3"/>
<polyline points="640.13,633.29 485.6,600.61 484.46,434.4" fill="none" stroke="#e6e6e6" stroke-width="1.3"/>
<polyline points="391.41,654.56 487.35,596.34 641.81,628.79" fill="none" stroke="#e6e6e6" stroke-width="1.3"/>
<polyline points="390.79,630.95 487.21,574.33 642.4,605.88" fill="none" stroke="#e6e6e6" stroke-width="1.3"/>
<polyline points="390.15,607.12 487.06,552.11 642.99,582.76" fill="none" stroke="#e6e6e6" stroke-width="1.3"/>
<polyline points="389.51,583.04 486.92,529.7 643.58,559.42" fill="none" stroke="#e6e6e6" stroke-width="1.3"/>
<polyline points="388.87,558.73 486.77,507.08 644.18,535.85" fill="none" stroke="#e6e6e6" stroke-width="1.3"/>
<polyline points="388.22,534.17 486.62,484.24 644.79,512.05" fill="none" stroke="#e6e6e6" stroke-width="1.3"/>
<polyline points="387.56,509.37 486.47,461.2 645.4,488.02" fill="none" stroke="#e6e6e6" stroke-width="1.3"/>
<polyline points="386.9,484.31 486.32,437.95 646.01,463.76" fill="none" stroke="#e6e6e6" stroke-width="1.3"/>
<line x1="530.64" y1="606.81" x2="538.12" y2="608.4" stroke="#2a2a2a" stroke-width="1.5" stroke-linecap="square"/>
<line x1="538.95" y1="608.57" x2="546.47" y2="610.16" stroke="#2a2a2a" stroke-width="1.5" stroke-linecap="square"/>
<line x1="547.31" y1="610.34" x2="554.87" y2="611.93" stroke="#2a2a2a" stroke-width="1.5" stroke-linecap="square"/>
<line x1="555.71" y1="612.11" x2="563.3" y2="613.72" stroke="#2a2a2a" stroke-width="1.5" stroke-linecap="square"/>
<line x1="564.15" y1="613.89" x2="571.78" y2="615.51" stroke="#2a2a2a" stroke-width="1.5" stroke-linecap="square"/>
<line x1="572.63" y1="615.69" x2="580.3" y2="617.31" stroke="#2a2a2a" stroke-width="1.5" stroke-linecap="square"/>
<polygon points="581.16,617.49 581.18,615.69 588.9,617.31 588.87,619.12" fill="#ff0000" fill-opacity="0.7"/>
<polygon points="581.16,617.49 581.18,615.69 588.9,617.31 588.87,619.12" fill="none" stroke="#3c3c3c" stroke-opacity="0.95" stroke-width="1.5" stroke-linejoin="miter"/>
<polygon points="589.73,619.3 589.94,604.92 597.71,606.53 597.48,620.94" fill="#ff0000" fill-opacity="0.7"/>
<polygon points="589.73,619.3 589.94,604.92 597.71,606.53 597.48,620.94" fill="none" stroke="#3c3c3c" stroke-opacity="0.95" stroke-width="1.5" stroke-linejoin="miter"/>
<polygon points="598.34,621.12 599.07,576.53 606.94,578.08 606.14,622.76" fill="#ff0000" fill-opacity="0.7"/>
<polygon points="598.34,621.12 599.07,576.53 606.94,578.08 606.14,622.76" fill="none" stroke="#3c3c3c" stroke-opacity="0.95" stroke-width="1.5" stroke-linejoin="miter"/>
<polygon points="607,622.95 608.82,522.8 616.82,524.25 614.84,624.6" fill="#ff0000" fill-opacity="0.7"/>
<polygon points="607,622.95 608.82,522.8 616.82,524.25 614.84,624.6" fill="none" stroke="#3c3c3c" stroke-opacity="0.95" stroke-width="1.5" stroke-linejoin="miter"/>
<polygon points="615.71,624.79 618.6,479.81 626.72,481.17 623.58,626.45" fill="#ff0000" fill-opacity="0.7"/>
<polygon points="615.71,624.79 618.6,479.81 626.72,481.17 623.58,626.45" fill="none" stroke="#3c3c3c" stroke-opacity="0.95" stroke-width="1.5" stroke-linejoin="miter"/>
<polygon points="624.46,626.63 627.02,509.01 635.13,510.44 632.37,628.31" fill="#ff0000" fill-opacity="0.7"/>
<polygon points="624.46,626.63 627.02,509.01 635.13,510.44 632.37,628.31" fill="none" stroke="#3c3c3c" stroke-opacity="0.95" stroke-width="1.5" stroke-linejoin="miter"/>
<polygon points="633.25,628.49 634.12,591.75 642.14,593.36 641.21,630.17" fill="#ff0000" fill-opacity="0.7"/>
<polygon points="633.25,628.49 634.12,591.75 642.14,593.36 641.21,630.17" fill="none" stroke="#3c3c3c" stroke-opacity="0.95" stroke-width="1.5" stroke-linejoin="miter"/>
<line x1="487.68" y1="634.42" x2="495.36" y2="636.13" stroke="#2a2a2a" stroke-width="1.5" stroke-linecap="square"/>
<line x1="496.22" y1="636.32" x2="503.93" y2="638.03" stroke="#2a2a2a" stroke-width="1.5" stroke-linecap="square"/>
<line x1="504.79" y1="638.23" x2="512.55" y2="639.95" stroke="#2a2a2a" stroke-width="1.5" stroke-linecap="square"/>
<line x1="513.41" y1="640.14" x2="521.21" y2="641.88" stroke="#2a2a2a" stroke-width="1.5" stroke-linecap="square"/>
<line x1="522.08" y1="642.07" x2="529.92" y2="643.82" stroke="#2a2a2a" stroke-width="1.5" stroke-linecap="square"/>
<polygon points="530.79,644.01 530.8,640.34 538.69,642.09 538.68,645.77" fill="#008000" fill-opacity="0.7"/>
<polygon points="530.79,644.01 530.8,640.34 538.69,642.09 538.68,645.77" fill="none" stroke="#3c3c3c" stroke-opacity="0.95" stroke-width="1.5" stroke-linejoin="miter"/>
<polygon points="539.55,645.96 539.62,630.66 547.57,632.39 547.48,647.72" fill="#008000" fill-opacity="0.7"/>
<polygon points="539.55,645.96 539.62,630.66 547.57,632.39 547.48,647.72" fill="none" stroke="#3c3c3c" stroke-opacity="0.95" stroke-width="1.5" stroke-linejoin="miter"/>
<polygon points="548.36,647.92 548.62,604.36 556.66,606.04 556.33,649.69" fill="#008000" fill-opacity="0.7"/>
<polygon points="548.36,647.92 548.62,604.36 556.66,606.04 556.33,649.69" fill="none" stroke="#3c3c3c" stroke-opacity="0.95" stroke-width="1.5" stroke-linejoin="miter"/>
<polygon points="557.21,649.89 557.91,561.72 566.07,563.32 565.22,651.67" fill="#008000" fill-opacity="0.7"/>
<polygon points="557.21,649.89 557.91,561.72 566.07,563.32 565.22,651.67" fill="none" stroke="#3c3c3c" stroke-opacity="0.95" stroke-width="1.5" stroke-linejoin="miter"/>
<polygon points="566.11,651.87 567.35,524.62 575.62,526.15 574.17,653.66" fill="#008000" fill-opacity="0.7"/>
<polygon points="566.11,651.87 567.35,524.62 575.62,526.15 574.17,653.66" fill="none" stroke="#3c3c3c" stroke-opacity="0.95" stroke-width="1.5" stroke-linejoin="miter"/>
<polygon points="575.06,653.86 576.42,536.93 584.72,538.48 583.16,655.66" fill="#008000" fill-opacity="0.7"/>
<polygon points="575.06,653.86 576.42,536.93 584.72,538.48 583.16,655.66" fill="none" stroke="#3c3c3c" stroke-opacity="0.95" stroke-width="1.5" stroke-linejoin="miter"/>
<polygon points="584.06,655.86 584.93,591.02 593.18,592.69 592.2,657.68" fill="#008000" fill-opacity="0.7"/>
<polygon points="584.06,655.86 584.93,591.02 593.18,592.69 592.2,657.68" fill="none" stroke="#3c3c3c" stroke-opacity="0.95" stroke-width="1.5" stroke-linejoin="miter"/>
<polygon points="593.1,657.88 593.35,642.08 601.56,643.86 601.29,659.7" fill="#008000" fill-opacity="0.7"/>
<polygon points="593.1,657.88 593.35,642.08 601.56,643.86 601.29,659.7" fill="none" stroke="#3c3c3c" stroke-opacity="0.95" stroke-width="1.5" stroke-linejoin="miter"/>
<line x1="414.55" y1="658.04" x2="422.3" y2="659.86" stroke="#2a2a2a" stroke-width="1.5" stroke-linecap="square"/>
<line x1="423.17" y1="660.06" x2="430.96" y2="661.9" stroke="#2a2a2a" stroke-width="1.5" stroke-linecap="square"/>
<line x1="431.83" y1="662.1" x2="439.66" y2="663.94" stroke="#2a2a2a" stroke-width="1.5" stroke-linecap="square"/>
<line x1="440.53" y1="664.15" x2="448.41" y2="666" stroke="#2a2a2a" stroke-width="1.5" stroke-linecap="square"/>
<line x1="449.29" y1="666.2" x2="457.21" y2="668.07" stroke="#2a2a2a" stroke-width="1.5" stroke-linecap="square"/>
<polygon points="458.09,668.27 458.04,664.79 466.01,666.65 466.05,670.15" fill="#0000ff" fill-opacity="0.7"/>
<polygon points="458.09,668.27 458.04,664.79 466.01,666.65 466.05,670.15" fill="none" stroke="#3c3c3c" stroke-opacity="0.95" stroke-width="1.5" stroke-linejoin="miter"/>
<polygon points="466.94,670.35 466.83,660 474.85,661.86 474.95,672.24" fill="#0000ff" fill-opacity="0.7"/>
<polygon points="466.94,670.35 466.83,660 474.85,661.86 474.95,672.24" fill="none" stroke="#3c3c3c" stroke-opacity="0.95" stroke-width="1.5" stroke-linejoin="miter"/>
<polygon points="475.84,672.45 475.59,645.12 483.69,646.95 483.89,674.34" fill="#0000ff" fill-opacity="0.7"/>
<polygon points="475.84,672.45 475.59,645.12 483.69,646.95 483.89,674.34" fill="none" stroke="#3c3c3c" stroke-opacity="0.95" stroke-width="1.5" stroke-linejoin="miter"/>
<polygon points="484.79,674.55 484.39,619.99 492.58,621.78 492.88,676.45" fill="#0000ff" fill-opacity="0.7"/>
<polygon points="484.79,674.55 484.39,619.99 492.58,621.78 492.88,676.45" fill="none" stroke="#3c3c3c" stroke-opacity="0.95" stroke-width="1.5" stroke-linejoin="miter"/>
<polygon points="493.78,676.66 493.32,590.09 501.61,591.82 501.92,678.58" fill="#0000ff" fill-opacity="0.7"/>
<polygon points="493.78,676.66 493.32,590.09 501.61,591.82 501.92,678.58" fill="none" stroke="#3c3c3c" stroke-opacity="0.95" stroke-width="1.5" stroke-linejoin="miter"/>
<polygon points="502.83,678.79 502.47,574.69 510.84,576.39 511.02,680.71" fill="#0000ff" fill-opacity="0.7"/>
<polygon points="502.83,678.79 502.47,574.69 510.84,576.39 511.02,680.71" fill="none" stroke="#3c3c3c" stroke-opacity="0.95" stroke-width="1.5" stroke-linejoin="miter"/>
<polygon points="511.93,680.93 511.78,583.9 520.18,585.62 520.16,682.86" fill="#0000ff" fill-opacity="0.7"/>
<polygon points="511.93,680.93 511.78,583.9 520.18,585.62 520.16,682.86" fill="none" stroke="#3c3c3c" stroke-opacity="0.95" stroke-width="1.5" stroke-linejoin="miter"/>
<polygon points="521.08,683.08 521.1,619.01 529.49,620.81 529.35,685.03" fill="#0000ff" fill-opacity="0.7"/>
<polygon points="521.08,683.08 521.1,619.01 529.49,620.81 529.35,685.03" fill="none" stroke="#3c3c3c" stroke-opacity="0.95" stroke-width="1.5" stroke-linejoin="miter"/>
<polygon points="530.28,685.24 530.35,655.61 538.72,657.5 538.6,687.2" fill="#0000ff" fill-opacity="0.7"/>
<polygon points="530.28,685.24 530.35,655.61 538.72,657.5 538.6,687.2" fill="none" stroke="#3c3c3c" stroke-opacity="0.95" stroke-width="1.5" stroke-linejoin="miter"/>
<polygon points="539.53,687.42 539.56,679.9 547.94,681.86 547.9,689.38" fill="#0000ff" fill-opacity="0.7"/>
<polygon points="539.53,687.42 539.56,679.9 547.94,681.86 547.9,689.38" fill="none" stroke="#3c3c3c" stroke-opacity="0.95" stroke-width="1.5" stroke-linejoin="miter"/>
<line x1="548.83" y1="689.6" x2="557.25" y2="691.58" stroke="#2a2a2a" stroke-width="1.5" stroke-linecap="square"/>
<polyline points="392.09,658.48 555,696.57" stroke="#1c1c1c" stroke-width="1.3" stroke-linecap="square" fill="none"/>
<polyline points="555,696.57 641.74,632.21" stroke="#1c1c1c" stroke-width="1.3" stroke-linecap="square" fill="none"/>
<polyline points="641.74,632.21 646.1,460.2" stroke="#1c1c1c" stroke-width="1.3" stroke-linecap="square" fill="none"/>
<polyline points="395.39,659.01 393.23,660.34" fill="none" stroke="#1c1c1c" stroke-width="1.5" stroke-linecap="square"/>
<polyline points="416.78,664.08 414.65,665.42" fill="none" stroke="#1c1c1c" stroke-width="1.5" stroke-linecap="square"/>
<polyline points="438.47,669.21 436.36,670.57" fill="none" stroke="#1c1c1c" stroke-width="1.5" stroke-linecap="square"/>
<polyline points="460.45,674.41 458.37,675.79" fill="none" stroke="#1c1c1c" stroke-width="1.5" stroke-linecap="square"/>
<polyline points="482.74,679.69 480.68,681.09" fill="none" stroke="#1c1c1c" stroke-width="1.5" stroke-linecap="square"/>
<polyline points="505.34,685.04 503.31,686.45" fill="none" stroke="#1c1c1c" stroke-width="1.5" stroke-linecap="square"/>
<polyline points="528.25,690.46 526.25,691.9" fill="none" stroke="#1c1c1c" stroke-width="1.5" stroke-linecap="square"/>
<polyline points="551.49,695.96 549.51,697.42" fill="none" stroke="#1c1c1c" stroke-width="1.5" stroke-linecap="square"/>
<polyline points="554.98,694.62 559.49,695.68" fill="none" stroke="#1c1c1c" stroke-width="1.2" stroke-linecap="square"/>
<polyline points="577.12,678.22 581.57,679.24" fill="none" stroke="#1c1c1c" stroke-width="1.2" stroke-linecap="square"/>
<polyline points="598.36,662.5 602.75,663.48" fill="none" stroke="#1c1c1c" stroke-width="1.2" stroke-linecap="square"/>
<polyline points="618.75,647.41 623.07,648.35" fill="none" stroke="#1c1c1c" stroke-width="1.2" stroke-linecap="square"/>
<polyline points="638.34,632.91 642.6,633.81" fill="none" stroke="#1c1c1c" stroke-width="1.2" stroke-linecap="square"/>
<polyline points="640.02,628.41 644.28,629.3" fill="none" stroke="#1c1c1c" stroke-width="1.2" stroke-linecap="square"/>
<polyline points="640.59,605.51 644.87,606.39" fill="none" stroke="#1c1c1c" stroke-width="1.2" stroke-linecap="square"/>
<polyline points="641.17,582.4 645.47,583.25" fill="none" stroke="#1c1c1c" stroke-width="1.2" stroke-linecap="square"/>
<polyline points="641.75,559.07 646.07,559.89" fill="none" stroke="#1c1c1c" stroke-width="1.2" stroke-linecap="square"/>
<polyline points="642.34,535.51 646.68,536.3" fill="none" stroke="#1c1c1c" stroke-width="1.2" stroke-linecap="square"/>
<polyline points="642.94,511.72 647.3,512.49" fill="none" stroke="#1c1c1c" stroke-width="1.2" stroke-linecap="square"/>
<polyline points="643.54,487.71 647.92,488.45" fill="none" stroke="#1c1c1c" stroke-width="1.2" stroke-linecap="square"/>
<polyline points="644.14,463.46 648.55,464.17" fill="none" stroke="#1c1c1c" stroke-width="1.2" stroke-linecap="square"/>
<text x="664.42" y="639.83" font-size="19" text-anchor="middle">0.00</text>
<text x="665.01" y="616.93" font-size="19" text-anchor="middle">0.05</text>
<text x="665.59" y="593.8" font-size="19" text-anchor="middle">0.10</text>
<text x="666.18" y="570.46" font-size="19" text-anchor="middle">0.15</text>
<text x="666.78" y="546.89" font-size="19" text-anchor="middle">0.20</text>
<text x="667.39" y="523.09" font-size="19" text-anchor="middle">0.25</text>
<text x="668" y="499.07" font-size="19" text-anchor="middle">0.30</text>
<text x="668.61" y="474.8" font-size="19" text-anchor="middle">0.35</text>
<text x="407.08" y="700.02" font-size="19" text-anchor="middle">0.94</text>
<text x="450.75" y="710.36" font-size="19" text-anchor="middle">0.96</text>
<text x="495.64" y="720.98" font-size="19" text-anchor="middle">0.98</text>
<text x="541.79" y="731.91" font-size="19" text-anchor="middle">1.00</text>
<text x="446.4" y="737.8" font-size="20" text-anchor="middle" transform="rotate(12.8 446.4 737.8)"><tspan font-style="italic">|ω</tspan><tspan font-style="italic" font-size="14.5" dy="3.8">L</tspan><tspan dy="-3.8" font-style="italic">|</tspan></text>
<text x="622.7" y="691" font-size="19" text-anchor="middle" transform="rotate(-35.8 622.7 691)"><tspan font-style="italic">τ</tspan> [<tspan font-style="italic">μ</tspan>s]</text>
<text transform="translate(357.43 563.8) scale(1.1705 1)" font-size="17.86" font-family="'DejaVu Math TeX Gyre', 'DejaVu Serif', serif">𝒫</text>
<text transform="translate(466.41 414.7) scale(1.0302 1)" font-size="17.72" font-style="italic">L</text>
<text transform="translate(479.6 416) scale(1.4499 1)" font-size="16.6">=</text>
<text transform="translate(496.65 414.7) scale(0.9686 1)" font-size="16.84">500</text>
<rect x="633.1" y="404.05" width="40.5" height="20.2" fill="#fff" stroke="#000" stroke-width="1.3"/>
<text transform="translate(638.62 417.5) scale(0.9171 1)" font-size="13.29" font-style="italic">J</text>
<text transform="translate(648.6 418.5) scale(1.5374 1)" font-size="13">=</text>
<text transform="translate(662.9 417.5) scale(0.9707 1)" font-size="12.88">1</text>
</g>
</svg>
</body></html>
